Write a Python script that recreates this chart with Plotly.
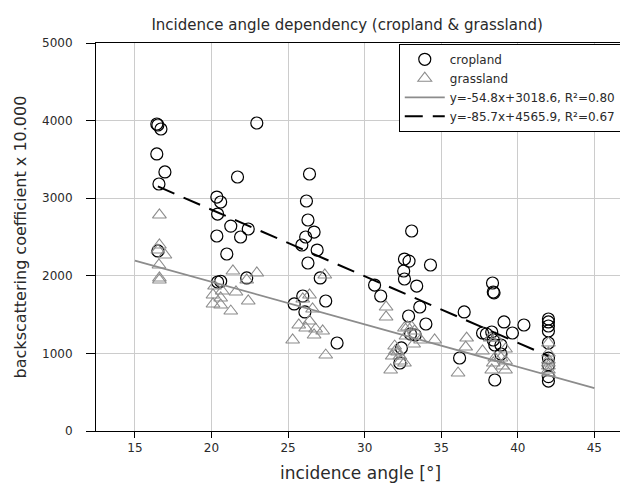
import numpy as np
import plotly.graph_objects as go

# ---------------- data ----------------
crop_angle = [16.43, 16.5, 16.7, 16.43, 16.96, 16.57, 16.5, 22.96, 21.7, 20.35, 20.6, 20.4,
              21.26, 22.4, 21.9, 20.35, 21.0, 22.3, 20.4, 20.6,
              26.4, 26.2, 26.3, 26.7, 26.15, 25.9, 26.9, 26.3, 27.1, 25.96, 25.4, 27.46,
              26.1, 28.2, 30.65, 31.05,
              32.6, 32.9, 32.55, 32.6, 33.07, 34.3, 33.4, 33.6, 32.87, 34.0, 33.0, 33.3,
              32.4, 32.3, 36.2, 36.5,
              38.35, 38.4, 38.45, 39.1, 40.4, 37.7, 37.95, 38.3, 38.4, 39.65, 38.5, 38.9,
              38.9, 38.5,
              42, 42, 42, 42, 42, 42, 42, 42, 42]
crop_bsc = [3956, 3943, 3892, 3570, 3338, 3183, 2320, 3969, 3273, 3015, 2951, 2796,
            2641, 2603, 2500, 2513, 2281, 1972, 1920, 1930,
            3312, 2964, 2719, 2564, 2500, 2397, 2332, 2165, 1972, 1740, 1637, 1675,
            1534, 1134, 1881, 1740,
            2216, 2190, 2062, 1959, 2577, 2139, 1868, 1598, 1482, 1379, 1250, 1237,
            1070, 876, 941, 1534,
            1907, 1791, 1780, 1405, 1366, 1263, 1250, 1276, 1173, 1263, 1108, 1108,
            992, 657,
            1443, 1405, 1353, 1289, 1134, 940, 851, 700, 644]

grass_angle = [16.6, 16.6, 16.5, 16.96, 16.57, 16.6, 16.6,
               21.4, 22.96, 22.3, 20.2, 20.1, 20.7, 21.6, 20.6, 20.1, 20.6, 22.4, 21.26,
               26.4, 25.96, 26.6, 26.4, 25.7, 26.15, 26.8, 27.26, 26.7, 25.3, 27.46, 27.4,
               31.4, 31.4, 32.6, 31.96, 32.0, 31.8, 32.3, 32.35, 31.7,
               32.8, 33.07, 33.26, 33.65, 34.57, 32.7, 33.2, 32.15, 32.6,
               36.66, 36.6, 36.1, 37.7, 38.2, 38.55, 39.2, 38.5, 38.9, 39.2, 39.0, 39.2,
               38.3, 38.4,
               42, 42, 42, 42, 42, 42, 42]
grass_bsc = [2784, 2397, 2332, 2268, 2139, 1972, 1946,
             2062, 2036, 1946, 1868, 1753, 1804, 1791, 1714, 1637, 1624, 1675, 1546,
             1753, 1701, 1572, 1417, 1366, 1327, 1314, 1289, 1237, 1173, 979, 2010,
             1598, 1469, 1327, 1095, 1031, 966, 966, 902, 786,
             1340, 1340, 1289, 1173, 1173, 1224, 1121, 1018, 876,
             1198, 1082, 747, 1031, 1198, 1198, 1057, 941, 941, 902, 838, 786,
             786, 876,
             1134, 1005, 915, 876, 838, 786, 747]

# linear fits (slope, intercept) and their x extents
grass_fit = (-54.8, 3018.6)
grass_fit_range = [15, 45]
crop_fit = (-85.7, 4565.9)
crop_fit_range = [16.5, 42]

x_ticks = [15, 20, 25, 30, 35, 40, 45]
y_ticks = [0, 1000, 2000, 3000, 4000, 5000]

FONT = "DejaVu Sans"
TXT = "#2a2a2a"

fig = go.Figure()

fig.add_trace(go.Scatter(
    x=crop_angle, y=crop_bsc, mode="markers", name="cropland",
    marker=dict(symbol="circle-open", size=12, color="black", line=dict(width=1.2)),
))
fig.add_trace(go.Scatter(
    x=grass_angle, y=grass_bsc, mode="markers", name="grassland",
    marker=dict(symbol="triangle-up-open", size=12, color="#8c8c8c", line=dict(width=1.1)),
))

gx = np.array(grass_fit_range, dtype=float)
fig.add_trace(go.Scatter(
    x=gx, y=grass_fit[0] * gx + grass_fit[1], mode="lines",
    name="y=-54.8x+3018.6, R²=0.80",
    line=dict(color="#8c8c8c", width=1.8),
))
cx = np.array(crop_fit_range, dtype=float)
fig.add_trace(go.Scatter(
    x=cx, y=crop_fit[0] * cx + crop_fit[1], mode="lines",
    name="y=-85.7x+4565.9, R²=0.67",
    line=dict(color="black", width=2, dash="18px,10px"),
))

axis_common = dict(
    showline=True, linecolor="black", linewidth=1, mirror=True,
    showgrid=True, gridcolor="#cccccc", gridwidth=1,
    ticks="outside", tickcolor="black",
    tickfont=dict(family=FONT, size=12, color=TXT),
    zeroline=False,
)

fig.update_xaxes(range=[12.46, 47.0], tickvals=x_ticks, ticklen=6,
                 title=dict(text="incidence angle [°]", font=dict(family=FONT, size=17, color=TXT), standoff=12),
                 **axis_common)
fig.update_yaxes(range=[0, 5000], tickvals=y_ticks, ticklen=9, ticklabelstandoff=11,
                 title=dict(text="backscattering coefficient x 10.000", font=dict(family=FONT, size=16, color=TXT), standoff=11),
                 **axis_common)

fig.update_layout(
    width=628, height=485,
    margin=dict(l=88, r=11, t=35, b=62),
    paper_bgcolor="white", plot_bgcolor="white",
    font=dict(family=FONT, color=TXT),
    title=dict(text="Incidence angle dependency (cropland & grassland)",
               font=dict(family=FONT, size=15, color=TXT),
               x=0.54, xanchor="center", y=0.965, yanchor="middle"),
    showlegend=True,
    legend=dict(x=0.992, y=0.998, xanchor="right", yanchor="top",
                bgcolor="white", bordercolor="black", borderwidth=1,
                font=dict(family=FONT, size=12, color=TXT),
                tracegroupgap=0, itemwidth=40),
)

fig.write_html("out.html")
